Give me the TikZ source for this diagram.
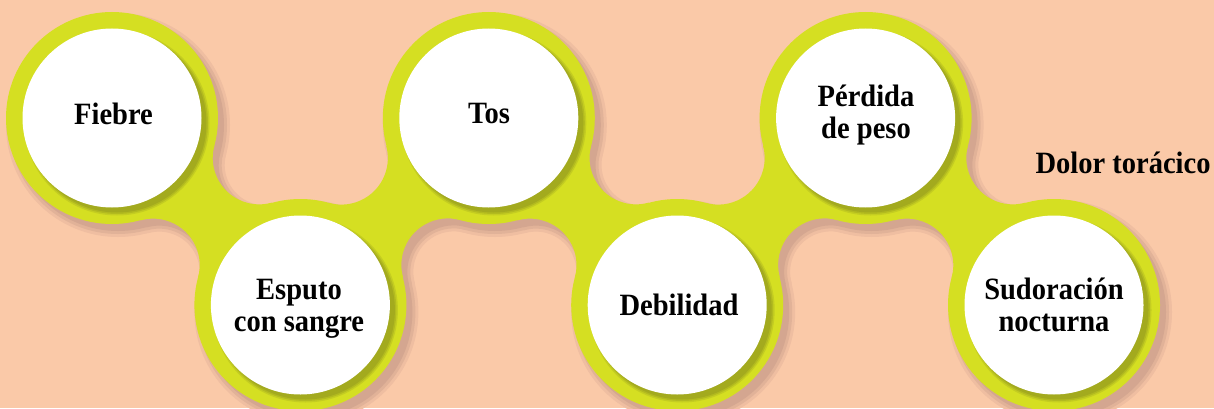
\documentclass[tikz,border=0pt]{standalone}
\usepackage{fontspec}
\setmainfont{Liberation Serif}[FakeStretch=0.92]
\usetikzlibrary{calc}
\definecolor{bg}{RGB}{250,201,168}
\definecolor{yel}{RGB}{213,223,34}
\definecolor{shd}{RGB}{212,166,144}
\definecolor{olv}{RGB}{163,170,30}
\newcommand\mkneck[2]{%
  \coordinate (m#1) at ($(c#1)!0.5!(c#2)$);
  \coordinate (f#1u) at ($(m#1)!75.5pt!90:(c#2)$);
  \coordinate (f#1v) at ($(m#1)!75.5pt!-90:(c#2)$);
  \coordinate (a#1u) at ($(c#1)!106pt!(f#1u)$);
  \coordinate (b#1u) at ($(c#2)!106pt!(f#1u)$);
  \coordinate (a#1v) at ($(c#1)!106pt!(f#1v)$);
  \coordinate (b#1v) at ($(c#2)!106pt!(f#1v)$);
}
\newcommand\neckpath[3]{%
  \path[#3] (a#1u)
    let \p1=($(a#1u)-(f#1u)$), \p2=($(b#1u)-(f#1u)$),
        \n1={atan2(\y1,\x1)}, \n2={atan2(\y2,\x2)},
        \n3={mod(\n2-\n1+540,360)-180} in
    arc[start angle=\n1, delta angle=\n3, radius=46.5pt] -- (c#2) -- (b#1v)
    let \p1=($(b#1v)-(f#1v)$), \p2=($(a#1v)-(f#1v)$),
        \n1={atan2(\y1,\x1)}, \n2={atan2(\y2,\x2)},
        \n3={mod(\n2-\n1+540,360)-180} in
    arc[start angle=\n1, delta angle=\n3, radius=46.5pt] -- (c#1) -- cycle;
}
\newcommand\blob[1]{%
  \foreach \i in {1,...,6} {\path[#1] (c\i) circle[radius=106pt];}
  \neckpath{1}{2}{#1}\neckpath{2}{3}{#1}\neckpath{3}{4}{#1}%
  \neckpath{4}{5}{#1}\neckpath{5}{6}{#1}%
}
\begin{document}
\begin{tikzpicture}[x=1pt,y=1pt,
  lab/.style={font=\bfseries\fontsize{31}{32}\selectfont, align=center, inner sep=0pt, text=black},
  line join=round]
\fill[bg] (0,0) rectangle (1214,408);
\useasboundingbox (0,0) rectangle (1214,408);
\coordinate (c1) at (112,290);
\coordinate (c2) at (300.4,103);
\coordinate (c3) at (488.8,290);
\coordinate (c4) at (677.2,103);
\coordinate (c5) at (865.6,290);
\coordinate (c6) at (1054,103);
\mkneck{1}{2}\mkneck{2}{3}\mkneck{3}{4}\mkneck{4}{5}\mkneck{5}{6}
% shadow of the yellow chain
\begin{scope}[transform canvas={shift={(6pt,-7pt)}}]
  \blob{draw=shd!30!bg, line width=12pt}
  \blob{draw=shd!65!bg, line width=6pt}
  \blob{fill=shd}
\end{scope}
% yellow chain
\blob{fill=yel}
% shadows of white discs
\begin{scope}[transform canvas={shift={(5pt,-5pt)}}]
  \foreach \i in {1,...,6} {\draw[olv!35!yel, line width=6pt] (c\i) circle[radius=89.5pt];}
  \foreach \i in {1,...,6} {\draw[olv!70!yel, line width=3pt] (c\i) circle[radius=89.5pt];}
  \foreach \i in {1,...,6} {\fill[olv] (c\i) circle[radius=89.5pt];}
\end{scope}
\foreach \i in {1,...,6} {\fill[white] (c\i) circle[radius=89.5pt];}
% labels
\node[lab] (fiebre) at (113.5,294.5) {Fiebre};
\node[lab] (esputo) at (299,99) {Esputo\\con sangre};
\node[lab] (tos) at (489,294.5) {Tos};
\node[lab] (debilidad) at (679,103.5) {Debilidad};
\node[lab] (perdida) at (866,292.5) {Pérdida\\de peso};
\node[lab] (sudoracion) at (1054,103.5) {Sudoración\\nocturna};
\node[lab] (dolor) at (1123,245) {Dolor torácico};
\end{tikzpicture}
\end{document}
